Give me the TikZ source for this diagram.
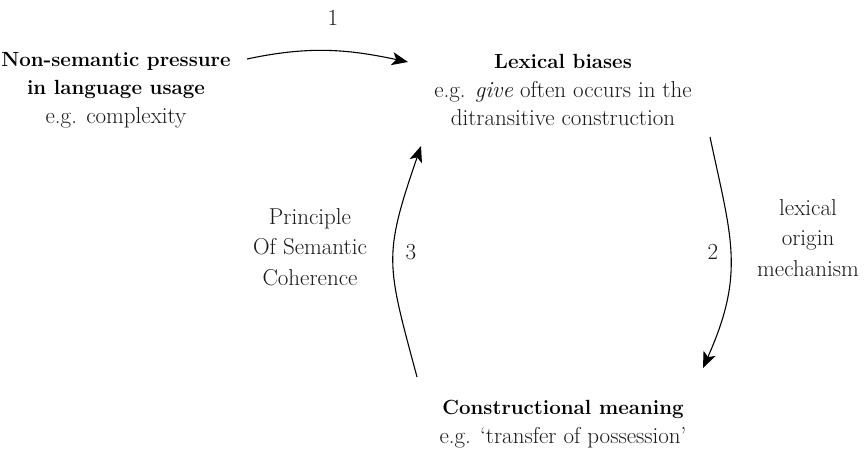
\documentclass[tikz,border=0pt]{standalone}
\usetikzlibrary{arrows.meta}
\newcommand{\ttlx}[1]{{\color{black}\fontsize{20.5}{28.5}\selectfont\bfseries #1}}
\begin{document}
\begin{tikzpicture}[x=1pt,y=1pt,
  box/.style={align=center,inner sep=0pt,font=\fontsize{23}{28.5}\selectfont,text=black!90},
  lbl/.style={align=center,inner sep=0pt,font=\fontsize{23}{30.5}\selectfont,text=black!90},
  conn/.style={line width=1.1pt,-{Stealth[length=16pt,width=13pt,inset=4pt]}}]
\useasboundingbox (0,0) rectangle (867,-453);
\node[box] (a) at (116,-90) {\ttlx{Non-semantic pressure}\\\ttlx{in language usage}\\e.g. complexity};
\node[box] (b) at (563,-90) {\ttlx{Lexical biases}\\e.g. \textit{give} often occurs in the\\ditransitive construction};
\node[box] (c) at (563,-424) {\ttlx{Constructional meaning}\\e.g. `transfer of possession'};
\node[lbl] (l1) at (333,-18) {1};
\node[lbl] (l2) at (713,-252) {2};
\node[lbl] (l3) at (411,-252) {3};
\node[lbl] (m2) at (808,-238) {lexical\\origin\\mechanism};
\node[lbl] (m3) at (310,-247) {Principle\\Of Semantic\\Coherence};
\draw[conn] ([shift={(131,31)}]a.center) to[out=12,in=168] ([shift={(-155,28)}]b.center);
\draw[conn] ([shift={(147,-47)}]b.center) to[out=-78,in=66,looseness=1.15] ([shift={(140,56)}]c.center);
\draw[conn] ([shift={(-146,47)}]c.center) to[out=105,in=-109,looseness=1.3] ([shift={(-142,-56)}]b.center);
\end{tikzpicture}
\end{document}
